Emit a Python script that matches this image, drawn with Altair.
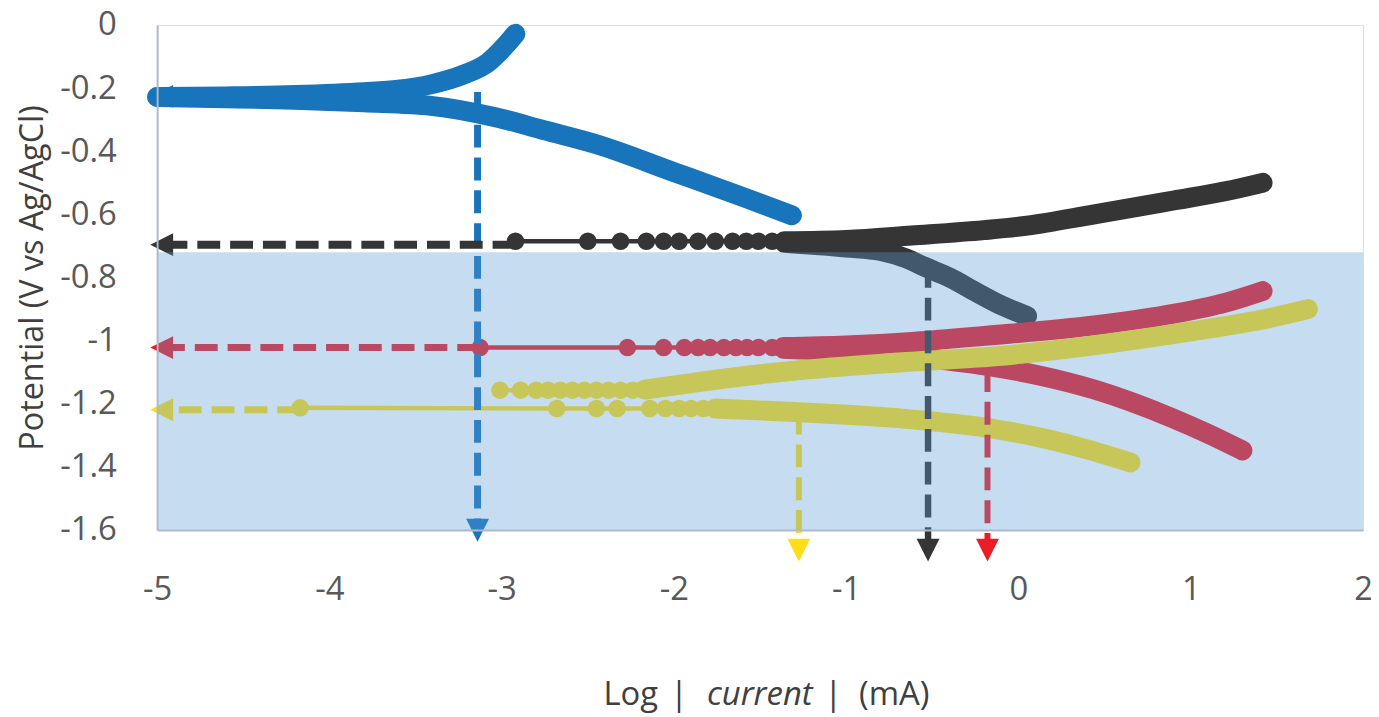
import altair as alt
import pandas as pd

# ---------------- values ----------------
SERIES = ["blue", "black", "red", "yellow"]
SERIES_COLORS = ["#1874bb", "#353535", "#ee1c25", "#ffde17"]

# blue curve
BLUE_CATH_X = [-1.315, -1.6, -2.0, -2.45, -2.75, -3.03, -3.41, -3.8, -4.2, -4.6, -5.0]
BLUE_CATH_Y = [-0.603, -0.545, -0.466, -0.378, -0.334, -0.293, -0.256, -0.245, -0.237, -0.232, -0.228]
BLUE_ANOD_X = [-5.0, -4.6, -4.2, -3.8, -3.6, -3.41, -3.22, -3.08, -2.97, -2.92]
BLUE_ANOD_Y = [-0.228, -0.226, -0.222, -0.213, -0.205, -0.188, -0.157, -0.119, -0.06, -0.028]
BLUE_DOT_X = [-4.97, -4.86, -4.76, -4.66, -4.57, -4.48, -4.39, -4.30]
BLUE_DOT_Y = [-0.228, -0.228, -0.228, -0.228, -0.228, -0.228, -0.228, -0.228]

# black curve
BLACK_DOT_X = [-2.92, -2.50, -2.31, -2.16, -2.06, -1.97, -1.86, -1.76, -1.66, -1.58, -1.51, -1.43, -1.36]
BLACK_DOT_Y = [-0.685] * 13
BLACK_ANOD_X = [-1.36, -1.0, -0.62, -0.2, 0.05, 0.44, 0.9, 1.2, 1.417]
BLACK_ANOD_Y = [-0.685, -0.681, -0.667, -0.65, -0.636, -0.6, -0.556, -0.527, -0.50]
BLACK_CATH_X = [-1.36, -1.0, -0.8, -0.65, -0.55, -0.4, -0.24, -0.1, 0.05]
BLACK_CATH_Y = [-0.69, -0.705, -0.716, -0.74, -0.765, -0.80, -0.848, -0.888, -0.922]

# red curve
RED_DOT_X = [-3.125, -2.27, -2.06, -1.94, -1.86, -1.79, -1.71, -1.64, -1.575, -1.51, -1.43, -1.365]
RED_DOT_Y = [-1.022] * 12
RED_ANOD_X = [-1.365, -1.0, -0.6, -0.2, 0.44, 0.9, 1.2, 1.417]
RED_ANOD_Y = [-1.02, -1.015, -1.003, -0.985, -0.952, -0.915, -0.88, -0.843]
RED_CATH_X = [-1.365, -1.0, -0.6, -0.18, 0.1, 0.44, 0.9, 1.1, 1.30]
RED_CATH_Y = [-1.026, -1.035, -1.052, -1.08, -1.108, -1.155, -1.247, -1.295, -1.348]

# yellow curve
YELLOW_DOT_LOW_X = [-4.17, -2.68, -2.45, -2.33, -2.14, -2.05, -1.97, -1.90, -1.83, -1.76]
YELLOW_DOT_LOW_Y = [-1.213] + [-1.215] * 9
YELLOW_DOT_UP_X = [-3.01, -2.89, -2.80, -2.73, -2.66, -2.59, -2.52, -2.45, -2.38, -2.31, -2.24, -2.17]
YELLOW_DOT_UP_Y = [-1.157] * 12
YELLOW_ANOD_X = [-2.17, -1.87, -1.3, -0.72, -0.14, 0.436, 1.01, 1.4, 1.68]
YELLOW_ANOD_Y = [-1.155, -1.132, -1.095, -1.07, -1.05, -1.015, -0.97, -0.935, -0.90]
YELLOW_CATH_X = [-1.76, -1.3, -0.72, -0.14, 0.15, 0.4, 0.65]
YELLOW_CATH_Y = [-1.215, -1.226, -1.245, -1.28, -1.31, -1.345, -1.386]

# dashed arrows (start -> tip)
ARROW_NAMES = ["blue_h", "blue_v", "black_h", "red_h", "yellow_h", "yellow_v", "black_v", "red_v"]
ARROW_SERIES = ["blue", "blue", "black", "red", "yellow", "yellow", "black", "red"]
ARROW_X0 = [-4.4, -3.14, -2.92, -3.125, -4.17, -1.275, -0.525, -0.18]
ARROW_Y0 = [-0.226, -0.212, -0.696, -1.022, -1.219, -1.225, -0.76, -1.09]
ARROW_X1 = [-5.04, -3.14, -5.04, -5.04, -5.04, -1.275, -0.525, -0.18]
ARROW_Y1 = [-0.226, -1.637, -0.696, -1.022, -1.219, -1.70, -1.70, -1.70]

# shaded region
SHADE_X = [-5, 2]
SHADE_Y = [-0.72, -1.6]

X_TICKS = [-5, -4, -3, -2, -1, 0, 1, 2]
Y_TICKS = [0, -0.2, -0.4, -0.6, -0.8, -1, -1.2, -1.4, -1.6]

# ---------------- tables ----------------
def rows(series, key, xs, ys):
    return [{"series": series, "key": key, "order": i, "x": x, "y": y}
            for i, (x, y) in enumerate(zip(xs, ys))]

bands = pd.DataFrame(
    rows("blue", "blue_c", BLUE_CATH_X, BLUE_CATH_Y)
    + rows("blue", "blue_a", BLUE_ANOD_X, BLUE_ANOD_Y)
    + rows("black", "black_c", BLACK_CATH_X, BLACK_CATH_Y)
    + rows("black", "black_a", BLACK_ANOD_X, BLACK_ANOD_Y)
    + rows("red", "red_c", RED_CATH_X, RED_CATH_Y)
    + rows("red", "red_a", RED_ANOD_X, RED_ANOD_Y)
    + rows("yellow", "yellow_c", YELLOW_CATH_X, YELLOW_CATH_Y)
    + rows("yellow", "yellow_a", YELLOW_ANOD_X, YELLOW_ANOD_Y)
)
dots = pd.DataFrame(
    rows("blue", "blue_d", BLUE_DOT_X, BLUE_DOT_Y)
    + rows("black", "black_d", BLACK_DOT_X, BLACK_DOT_Y)
    + rows("red", "red_d", RED_DOT_X, RED_DOT_Y)
    + rows("yellow", "yellow_dl", YELLOW_DOT_LOW_X, YELLOW_DOT_LOW_Y)
    + rows("yellow", "yellow_du", YELLOW_DOT_UP_X, YELLOW_DOT_UP_Y)
)

W, H = 1213, 508
FONT = "Open Sans"
color_scale = alt.Scale(domain=SERIES, range=SERIES_COLORS)
xs = alt.Scale(domain=[-5, 2], nice=False, zero=False)
ys = alt.Scale(domain=[-1.6, 0], nice=False, zero=False)

X = alt.X("x:Q", scale=xs, title=None,
          axis=alt.Axis(values=X_TICKS, labelExpr="toString(datum.value)", ticks=False, tickSize=0,
                        grid=False, labelPadding=60, labelBaseline="middle", labelFontSize=33,
                        labelFlush=False, labelFont=FONT, labelColor="#595959",
                        domainColor="#aeb9cc", domainWidth=2, zindex=1))
Y = alt.Y("y:Q", scale=ys,
          axis=alt.Axis(values=Y_TICKS, labelExpr="toString(datum.value)", ticks=False, tickSize=0,
                        grid=False, labelPadding=41, labelFontSize=33, labelFont=FONT,
                        labelFlush=False, labelColor="#595959", domainColor="#aeb9cc",
                        domainWidth=2, zindex=1,
                        title="Potential (V vs Ag/AgCl)", titleFont=FONT, titleFontSize=32.5,
                        titleFontWeight="normal", titleColor="#404040", titleAngle=-90,
                        titleX=-125, titleY=H / 2, titleAlign="center", titleBaseline="middle"))
C = alt.Color("series:N", scale=color_scale, legend=None)

band_layer = alt.Chart(bands).mark_line(strokeWidth=20, strokeCap="round", strokeJoin="round",
                                        interpolate="monotone").encode(
    x=X, y=Y, color=C, detail="key:N", order="order:Q")
thin_layer = alt.Chart(dots).mark_line(strokeWidth=4.5).encode(
    x="x:Q", y="y:Q", color=C, detail="key:N", order="order:Q")
dot_layer = alt.Chart(dots).mark_circle(size=310, opacity=1).encode(
    x="x:Q", y="y:Q", color=C)

layers = [band_layer, thin_layer, dot_layer]

color_of = dict(zip(SERIES, SERIES_COLORS))
widths = {"blue_h": 7, "blue_v": 7, "black_h": 8, "red_h": 7, "yellow_h": 7,
          "yellow_v": 6, "black_v": 6.5, "red_v": 6}
HEAD = 23
for name, s, x0, y0, x1, y1 in zip(ARROW_NAMES, ARROW_SERIES, ARROW_X0, ARROW_Y0, ARROW_X1, ARROW_Y1):
    df = pd.DataFrame([{"x": x0, "y": y0, "x2": x1, "y2": y1}])
    col = color_of[s]
    horizontal = (y0 == y1)
    if horizontal:
        rule = alt.Chart(df).mark_rule(color=col, strokeWidth=widths[name], strokeDash=[23, 10],
                                       x2Offset=HEAD / 2)
        head = alt.Chart(df).mark_point(shape="M1,-1L1,1L-1,0Z", filled=True, size=HEAD * HEAD,
                                        color=col, opacity=1, strokeWidth=0, xOffset=HEAD / 2)
    else:
        rule = alt.Chart(df).mark_rule(color=col, strokeWidth=widths[name], strokeDash=[23, 10],
                                       y2Offset=-HEAD / 2)
        head = alt.Chart(df).mark_point(shape="M-1,-1L1,-1L0,1Z", filled=True, size=HEAD * HEAD,
                                        color=col, opacity=1, strokeWidth=0, yOffset=-HEAD / 2)
    layers.append(rule.encode(x="x:Q", y="y:Q", x2="x2:Q", y2="y2:Q"))
    layers.append(head.encode(x="x2:Q", y="y2:Q"))

shade = alt.Chart(pd.DataFrame([{"x": SHADE_X[0], "x2": SHADE_X[1], "y": SHADE_Y[0], "y2": SHADE_Y[1]}])
                  ).mark_rect(color="#5b9bd5", opacity=0.35).encode(
    x="x:Q", x2="x2:Q", y="y:Q", y2="y2:Q")
layers.append(shade)

# x-axis title, with "current" in italics
one = alt.Data(values=[{}])
TITLE_Y = 684
def piece(text, px, italic=False, align="left"):
    return alt.Chart(one).mark_text(text=text, font=FONT, fontSize=33, color="#404040",
                                    fontStyle="italic" if italic else "normal",
                                    align=align, baseline="alphabetic").encode(
        x=alt.value(px), y=alt.value(TITLE_Y))

layers += [piece("Log", 449), piece("|", 525, align="center"), piece("current", 553, italic=True),
           piece("|", 680, align="center"), piece("(mA)", 706)]

chart = alt.layer(*layers).properties(
    width=W, height=H,
    padding={"left": 150, "top": 15, "right": 8, "bottom": 186},
    autosize=alt.AutoSizeParams(type="none"),
).configure_view(stroke="#4472c4", strokeWidth=2).configure(background="white")

chart.save("out.html", embed_options={"renderer": "svg", "actions": False})
